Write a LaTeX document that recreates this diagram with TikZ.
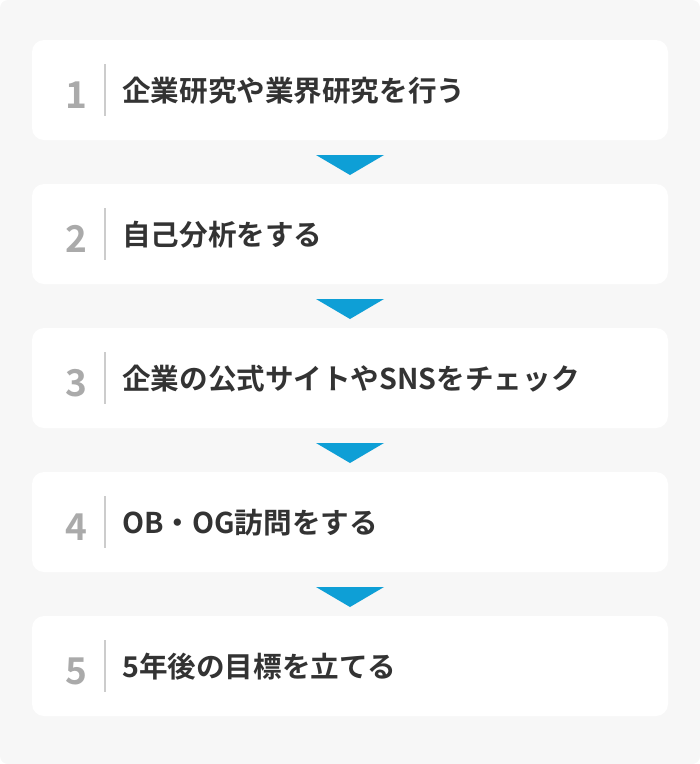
\documentclass[tikz,border=0pt]{standalone}
\usepackage{fontspec}
\setmainfont{Noto Sans CJK JP}[BoldFont={* Bold}]
\newfontfamily\jpbold{Noto Sans CJK JP Bold}
\definecolor{bggray}{HTML}{F7F7F7}
\definecolor{txt}{HTML}{333333}
\definecolor{numgray}{HTML}{AAAAAA}
\definecolor{divgray}{HTML}{CCCCCC}
\definecolor{arrowblue}{HTML}{0E9FD6}
\tikzset{
  stepcard/.style={fill=white, draw=none, rounded corners=12pt, minimum width=636pt, minimum height=100pt, inner sep=0pt},
  steplabel/.style={anchor=west, inner sep=0pt, text=txt, font=\jpbold\fontsize{28.6}{34}\selectfont},
  stepnum/.style={anchor=base, inner sep=0pt, text=numgray, font=\jpbold\fontsize{37}{40}\selectfont},
  divider/.style={draw=divgray, line width=2pt},
  downtri/.style={fill=arrowblue, draw=none}
}
\begin{document}
\begin{tikzpicture}[x=1pt,y=-1pt]
\useasboundingbox (0,0) rectangle (700,764);
\fill[bggray, rounded corners=8pt] (0,0) rectangle (700,764);
\foreach \i/\t in {1/企業研究や業界研究を行う,2/自己分析をする,3/企業の公式サイトやSNSをチェック,4/OB・OG訪問をする,5/5年後の目標を立てる}{
  \pgfmathsetmacro{\cy}{90+144*(\i-1)}
  \node[stepcard] (card\i) at (350,\cy) {};
  \node[stepnum] (num\i) at (76,\cy+18) {\i};
  \coordinate (dtop\i) at (105,\cy-26);
  \coordinate (dbot\i) at (105,\cy+26);
  \draw[divider] (dtop\i) -- (dbot\i);
  \node[steplabel] (lab\i) at (122,\cy+1) {\t};
}
\foreach \i in {1,2,3,4}{
  \pgfmathsetmacro{\ty}{155+144*(\i-1)}
  \coordinate (tl\i) at (316,\ty);
  \coordinate (tr\i) at (384,\ty);
  \coordinate (tb\i) at (350,\ty+20);
  \fill[downtri] (tl\i) -- (tr\i) -- (tb\i) -- cycle;
}
\end{tikzpicture}
\end{document}
